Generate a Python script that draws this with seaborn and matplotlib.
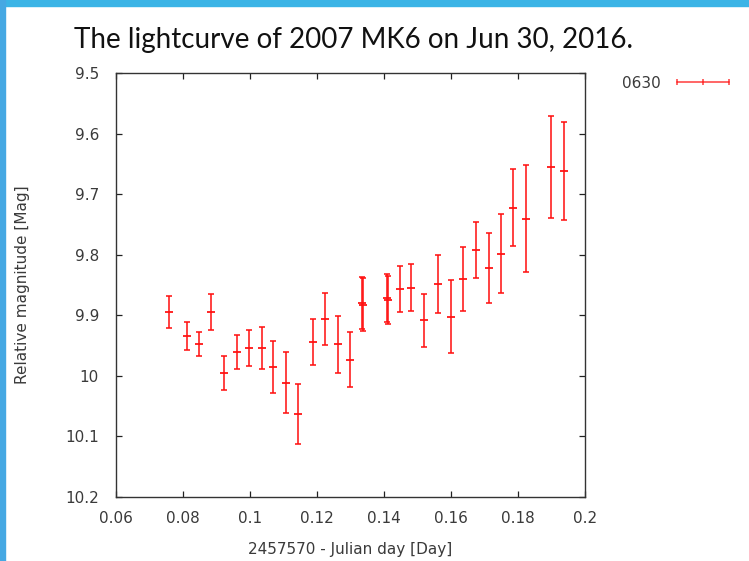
import matplotlib
matplotlib.use("Agg")
import matplotlib.pyplot as plt
from matplotlib.lines import Line2D
from matplotlib.patches import Rectangle
import seaborn as sns
import pandas as pd

# Observation times (JD - 2457570), relative magnitudes and their 1-sigma errors
jd_offset = [0.0760, 0.0813, 0.0849, 0.0885, 0.0924, 0.0962, 0.0998, 0.1036,
             0.1070, 0.1108, 0.1145, 0.1189, 0.1224, 0.1263, 0.1298, 0.1336,
             0.1337, 0.1410, 0.1411, 0.1447, 0.1481, 0.1521, 0.1562, 0.1600,
             0.1637, 0.1674, 0.1713, 0.1749, 0.1785, 0.1825, 0.1900, 0.1937]
rel_mag = [9.894, 9.934, 9.947, 9.894, 9.995, 9.960, 9.954, 9.954,
           9.985, 10.011, 10.063, 9.944, 9.906, 9.948, 9.973, 9.880,
           9.882, 9.871, 9.875, 9.857, 9.854, 9.908, 9.848, 9.902,
           9.840, 9.792, 9.822, 9.798, 9.722, 9.740, 9.655, 9.661]
mag_err = [0.026, 0.023, 0.020, 0.030, 0.028, 0.028, 0.030, 0.035,
           0.043, 0.050, 0.049, 0.038, 0.043, 0.047, 0.045, 0.043,
           0.044, 0.040, 0.040, 0.038, 0.039, 0.044, 0.048, 0.060,
           0.053, 0.046, 0.058, 0.065, 0.064, 0.088, 0.084, 0.081]

x_ticks = [0.06, 0.08, 0.10, 0.12, 0.14, 0.16, 0.18, 0.20]
x_tick_labels = ["0.06", "0.08", "0.1", "0.12", "0.14", "0.16", "0.18", "0.2"]
y_ticks = [9.5, 9.6, 9.7, 9.8, 9.9, 10.0, 10.1, 10.2]
y_tick_labels = ["9.5", "9.6", "9.7", "9.8", "9.9", "10", "10.1", "10.2"]

df = pd.DataFrame({"jd": jd_offset, "mag": rel_mag, "err": mag_err})

sns.set_theme(style="ticks")
plt.rcParams["font.family"] = ["DejaVu Sans"]

text_color = "#3a3a3a"
bar_color = "#ff1010"

fig = plt.figure(figsize=(7.49, 5.61), dpi=100)
fig.patch.set_facecolor("white")

# slide frame accents
fig.patches.append(Rectangle((0, 1 - 6 / 561), 1, 6 / 561, transform=fig.transFigure,
                             color="#3bb4e6", zorder=0))
fig.patches.append(Rectangle((0, 0), 5 / 749, 1, transform=fig.transFigure,
                             color="#45a8e3", zorder=0))

ax = fig.add_axes([115.7 / 749, 1 - 497 / 561, (585 - 115.7) / 749, (497 - 73.3) / 561])

ax.errorbar(df["jd"], df["mag"], yerr=df["err"], fmt="none", ecolor=bar_color,
            elinewidth=1.4, capsize=2.4, capthick=1.4, alpha=0.8, zorder=3)
sns.scatterplot(data=df, x="jd", y="mag", marker="_", s=36, color=bar_color,
                linewidth=1.4, alpha=0.9, ax=ax, zorder=4, legend=False)

ax.set_xlim(0.06, 0.20)
ax.set_ylim(10.2, 9.5)
ax.set_xticks(x_ticks)
ax.set_xticklabels(x_tick_labels)
ax.set_yticks(y_ticks)
ax.set_yticklabels(y_tick_labels)

ax.tick_params(axis="both", direction="in", length=4.5, width=0.9, color="#222222",
               labelsize=11, labelcolor=text_color, top=True, right=True)
ax.tick_params(axis="y", pad=12)
ax.tick_params(axis="x", pad=10)
for side in ["left", "right", "top", "bottom"]:
    ax.spines[side].set_visible(True)
    ax.spines[side].set_color("#333333")
    ax.spines[side].set_linewidth(1.0)

ax.set_xlabel("2457570 - Julian day [Day]", fontsize=11, color=text_color)
ax.set_ylabel("Relative magnitude [Mag]", fontsize=11, color=text_color)
ax.xaxis.set_label_coords(0.5, -0.125)
ax.xaxis.label.set_va("center")
ax.yaxis.set_label_coords(-0.198, 0.5)
ax.yaxis.label.set_va("center")

legend_handle = Line2D([], [], color=bar_color, marker="|", markersize=5,
                       markeredgewidth=1.2, linewidth=1.2, alpha=0.75)
fig.legend(handles=[legend_handle], labels=["0630"], loc="center left",
           bbox_to_anchor=(622 / 749, 1 - 83.3 / 561), bbox_transform=fig.transFigure,
           frameon=False, markerfirst=False, numpoints=3, handlelength=4.0,
           handletextpad=0.75, borderpad=0, borderaxespad=0, fontsize=11,
           labelcolor=text_color)

fig.text(0.4725, 1 - 40 / 561, "The lightcurve of 2007 MK6 on Jun 30, 2016.",
         ha="center", va="center", fontsize=20, color="#111111",
         family=["Lato"], fontweight="normal")

fig.savefig("out.png", dpi=100, facecolor="white")
